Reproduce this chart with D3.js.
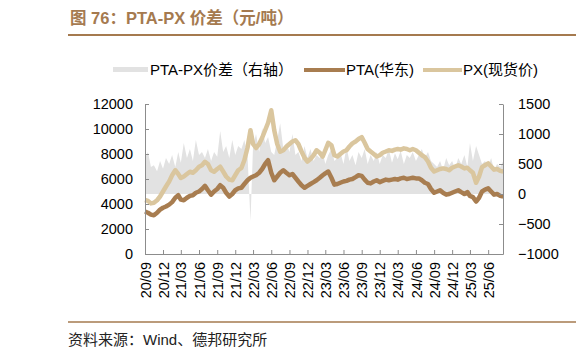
<!DOCTYPE html>
<html><head><meta charset="utf-8">
<script src="https://cdn.jsdelivr.net/npm/d3@7"></script>
<style>body{margin:0;background:#fff} svg{display:block}</style>
</head><body><svg id="c" width="582" height="359"></svg>
<script>
// ---- data (half-monthly samples, first point 2020-09-01) ----
const startYear = 2020, startMonth = 9;
const ptaValues = [
 3400,3300,3150,3100,3300,3550,3700,3800,3950,4150,
 4500,4700,4350,4300,4500,4650,4700,4900,5000,5200,
 5450,5100,4750,5000,5200,5500,5300,4900,4600,4800,
 5100,5250,5300,5600,5900,6100,6200,6300,6500,6800,
 7200,7500,6500,5900,6200,6500,6700,6500,6300,6400,
 6100,5800,5500,5300,5450,5600,5750,5900,6100,6300,
 6450,6600,6100,5550,5600,5700,5800,5850,5950,6000,
 6150,6300,6250,5950,5700,5650,5800,5900,5750,5850,
 5950,5900,5950,6000,5950,6050,6100,6000,6050,6100,
 6050,6050,5900,5700,5600,5200,4900,5000,5100,4900,
 4750,4800,4900,5000,5100,4950,4800,4950,4650,4550,
 4200,4500,5000,5150,5250,5000,4750,4800,4650,4600];
const pxValues = [
 4320,4250,4050,4100,4300,4600,5000,5400,5800,6300,
 6700,6400,6080,6200,6400,6580,6500,6700,6980,7100,
 7380,7200,6700,6580,6800,6980,6600,6200,5950,5900,
 6300,6700,6880,7500,8500,9900,8800,8480,8800,9300,
 9900,10500,11500,9900,8800,8180,8300,8580,8800,9000,
 9100,8800,8200,7700,7400,7600,7900,8300,8100,7800,
 8300,8900,8700,7900,7800,8000,8200,8300,8600,8850,
 9000,9200,9350,8900,8400,8200,8000,7800,7900,8100,
 8200,8300,8250,8350,8400,8350,8450,8400,8300,8400,
 8300,8100,7900,7750,7400,6900,6600,6700,6800,6850,
 6800,6700,6900,7000,7100,7000,6850,6900,6700,6500,
 5700,6200,6950,7100,7250,7000,6750,6800,6650,6600];
const spreadValues = [
 600,700,450,480,380,550,420,600,500,650,
 450,700,520,850,600,750,550,900,650,700,
 600,750,550,700,620,1050,700,800,600,900,
 650,800,750,900,650,-450,800,1000,700,1100,
 850,950,700,650,900,1180,750,850,700,1000,
 650,700,550,800,600,750,550,650,600,700,
 500,650,750,550,600,700,500,780,550,650,
 480,700,600,750,500,650,550,700,500,650,
 600,750,520,680,580,720,500,650,600,700,
 550,650,750,600,700,550,500,450,550,400,
 600,480,550,420,600,500,650,450,850,550,
 800,650,500,550,450,600,400,500,450,550];
const leftTicks = [0,2000,4000,6000,8000,10000,12000];
const rightTicks = [-1000,-500,0,500,1000,1500];
const tickLabels = ["20/09","20/12","21/03","21/06","21/09","21/12","22/03","22/06","22/09","22/12",
 "23/03","23/06","23/09","23/12","24/03","24/06","24/09","24/12","25/03","25/06"];
const legendLabels = ["PTA-PX价差（右轴）","PTA(华东)","PX(现货价)"];
const titleText = "图 76：PTA-PX 价差（元/吨）";
const sourceText = "资料来源：Wind、德邦研究所";

// ---- build ----
const dates = ptaValues.map((_, i) => new Date(startYear, startMonth - 1 + Math.floor(i / 2), i % 2 ? 16 : 1));
const C = {pta:"#a87d50", px:"#dac69e", spread:"#e2e2e2", axis:"#8c8c8c", title:"#a57a4f"};
const FONT = "'Liberation Sans', Arial, 'Noto Sans CJK SC', sans-serif";
const svg = d3.select("#c");
const L = 145, R = 503, T = 104, B = 254;

const x = d3.scaleTime().domain([dates[0], new Date(2025, 7, 15)]).range([L, R]);
const yL = d3.scaleLinear().domain([0, 12000]).range([B, T]);
const yR = d3.scaleLinear().domain([-1000, 1500]).range([B, T]);

// title
svg.append("text").attr("x", 70).attr("y", 24).attr("font-family", FONT)
  .attr("font-weight", "bold").attr("font-size", 16.5).attr("fill", C.title).text(titleText);
svg.append("line").attr("x1", 68).attr("x2", 576).attr("y1", 35).attr("y2", 35).attr("stroke", C.title).attr("stroke-width", 2);
svg.append("line").attr("x1", 68).attr("x2", 576).attr("y1", 322).attr("y2", 322).attr("stroke", C.title).attr("stroke-width", 1.5);
svg.append("text").attr("x", 68).attr("y", 345).attr("font-family", FONT).attr("font-size", 15).attr("fill", "#222").text(sourceText);

// spread area
const area = d3.area().x((d, i) => x(dates[i])).y0(yR(0)).y1(d => yR(d));
svg.append("path").datum(spreadValues).attr("d", area).attr("fill", C.spread);

// lines
const lineL = d3.line().x((d, i) => x(dates[i])).y(d => yL(d));
svg.append("path").datum(pxValues).attr("d", lineL).attr("fill", "none").attr("stroke", C.px).attr("stroke-width", 4.5).attr("stroke-linejoin", "round");
svg.append("path").datum(ptaValues).attr("d", lineL).attr("fill", "none").attr("stroke", C.pta).attr("stroke-width", 4.5).attr("stroke-linejoin", "round");

// axes
const fmt = d3.format("d");
const axL = svg.append("g").attr("transform", `translate(${L},0)`)
  .call(d3.axisLeft(yL).tickValues(leftTicks).tickFormat(fmt).tickSizeInner(-4).tickSizeOuter(0).tickPadding(12));
const axR = svg.append("g").attr("transform", `translate(${R},0)`)
  .call(d3.axisRight(yR).tickValues(rightTicks).tickFormat(fmt).tickSizeInner(-4).tickSizeOuter(0).tickPadding(15));
const tickDates = tickLabels.map(s => new Date(2000 + +s.slice(0, 2), +s.slice(3) - 1, 1));
const axB = svg.append("g").attr("transform", `translate(0,${B})`)
  .call(d3.axisBottom(x).tickValues(tickDates.concat([x.domain()[1]])).tickFormat((d, i) => tickLabels[i] || "").tickSizeInner(-4).tickSizeOuter(0));
axB.selectAll(".tick text").attr("transform", "rotate(-90)").attr("text-anchor", "end")
  .attr("dy", "0.35em").attr("x", -8).attr("y", 0);
[axL, axR, axB].forEach(g => {
  g.selectAll("path, line").attr("stroke", C.axis);
  g.selectAll("text").attr("font-family", FONT).attr("font-size", 14.5).attr("fill", "#000");
});

// legend
const lg = svg.append("g").attr("font-family", FONT).attr("font-size", 15);
lg.append("rect").attr("x", 113).attr("y", 67).attr("width", 35).attr("height", 5).attr("fill", C.spread);
lg.append("text").attr("x", 150).attr("y", 75).text(legendLabels[0]);
lg.append("line").attr("x1", 304).attr("x2", 345).attr("y1", 70).attr("y2", 70).attr("stroke", C.pta).attr("stroke-width", 4);
lg.append("text").attr("x", 346).attr("y", 75).text(legendLabels[1]);
lg.append("line").attr("x1", 423).attr("x2", 462).attr("y1", 70).attr("y2", 70).attr("stroke", C.px).attr("stroke-width", 4);
lg.append("text").attr("x", 463).attr("y", 75).text(legendLabels[2]);
</script></body></html>
